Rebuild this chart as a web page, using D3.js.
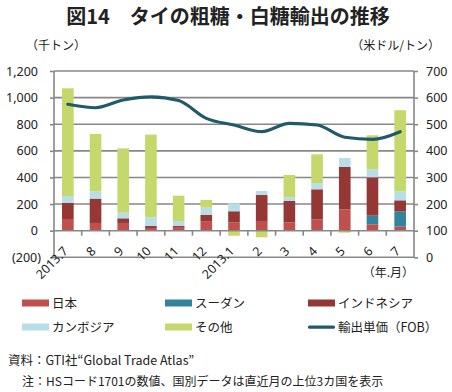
<!DOCTYPE html>
<html>
<head>
<meta charset="utf-8">
<script src="https://cdn.jsdelivr.net/npm/d3@7"></script>
<style>
  body { margin: 0; background: #fff; }
  svg { display: block; font-family: "Noto Sans CJK JP", "Noto Sans", sans-serif; }
</style>
</head>
<body>
<svg id="chart" width="452" height="392"></svg>
<script>
// 月
var months = ['2013.7', '8', '9', '10', '11', '12', '2013.1', '2', '3', '4', '5', '6', '7'];
// 国別輸出量（千トン）
var japan     = [88, 58, 58, 20, 22, 68, 63, 73, 63, 86, 161, 48, 30];
var sudan     = [0, 0, 0, 0, 0, 0, 0, 0, 0, 0, 0, 65, 116];
var indonesia = [122, 183, 35, 15, 13, 52, 83, 195, 160, 225, 318, 288, 82];
var cambodia  = [51, 55, 42, 65, 38, 53, 60, 30, 28, 47, 67, 60, 68];
var others    = [809, 431, 484, 622, 190, 58, -38, -50, 168, 216, -15, 256, 609];
// 輸出単価 FOB（米ドル/トン）
var price = [575, 562, 591, 603, 589, 522, 497, 472, 503, 497, 451, 443, 472];

var leftTicks = [-200, 0, 200, 400, 600, 800, 1000, 1200];
var rightTicks = [0, 100, 200, 300, 400, 500, 600, 700];

var series = [
  { key: 'japan', name: '日本', color: '#c0504d', values: japan },
  { key: 'sudan', name: 'スーダン', color: '#31849b', values: sudan },
  { key: 'indonesia', name: 'インドネシア', color: '#953735', values: indonesia },
  { key: 'cambodia', name: 'カンボジア', color: '#b7dee8', values: cambodia },
  { key: 'others', name: 'その他', color: '#c4d86c', values: others }
];
var lineColor = '#215a69';
var axisColor = '#878787';

var svg = d3.select('#chart');

// タイトル
svg.append('text')
    .attr('x', 228)
    .attr('y', 24)
    .attr('text-anchor', 'middle')
    .style('font-size', '20px')
    .style('font-weight', 'bold')
    .style('fill', '#222')
    .text('図14　タイの粗糖・白糖輸出の推移');

svg.append('text')
    .attr('x', 26).attr('y', 50)
    .style('font-size', '12px').style('fill', '#222')
    .text('（千トン）');
svg.append('text')
    .attr('x', 440).attr('y', 50)
    .attr('text-anchor', 'end')
    .style('font-size', '12px').style('fill', '#222')
    .text('（米ドル/トン）');

var plotLeft = 54, plotRight = 414, plotTop = 71, plotBottom = 257.3;

var x = d3.scaleBand()
    .domain(months)
    .range([plotLeft, plotRight])
    .paddingInner(0.58)
    .paddingOuter(0.29);

var yL = d3.scaleLinear().domain([-200, 1200]).range([plotBottom, plotTop]);
var yR = d3.scaleLinear().domain([0, 700]).range([plotBottom, plotTop]);

// グリッド
svg.append('g')
    .selectAll('line')
    .data(leftTicks.filter(function(d) { return d > 0; }))
    .enter()
    .append('line')
    .attr('x1', plotLeft).attr('x2', plotRight)
    .attr('y1', function(d) { return yL(d); })
    .attr('y2', function(d) { return yL(d); })
    .attr('stroke', axisColor)
    .attr('stroke-width', 1.6);

// 積み上げデータ
var table = months.map(function(m, i) {
  var row = { month: m };
  series.forEach(function(s) { row[s.key] = s.values[i]; });
  return row;
});
var stack = d3.stack()
    .keys(series.map(function(s) { return s.key; }))
    .offset(d3.stackOffsetDiverging);
var stacked = stack(table);

svg.append('g')
    .selectAll('g')
    .data(stacked)
    .enter()
    .append('g')
    .attr('fill', function(d, i) { return series[i].color; })
    .selectAll('rect')
    .data(function(d) { return d; })
    .enter()
    .append('rect')
    .attr('x', function(d) { return x(d.data.month); })
    .attr('width', x.bandwidth())
    .attr('y', function(d) { return yL(Math.max(d[0], d[1])); })
    .attr('height', function(d) { return Math.abs(yL(d[0]) - yL(d[1])); });

// 軸線
var axisG = svg.append('g').attr('stroke', axisColor).attr('stroke-width', 1.6);
axisG.append('line').attr('x1', plotLeft).attr('x2', plotLeft).attr('y1', plotTop).attr('y2', plotBottom);
axisG.append('line').attr('x1', plotRight).attr('x2', plotRight).attr('y1', plotTop).attr('y2', plotBottom);
axisG.append('line').attr('x1', plotLeft).attr('x2', plotRight).attr('y1', plotBottom).attr('y2', plotBottom);
axisG.append('line').attr('x1', plotLeft).attr('x2', plotRight).attr('y1', yL(0)).attr('y2', yL(0));

// 左軸
var fmt = d3.format(',');
var yAxisL = d3.axisLeft(yL)
    .tickValues(leftTicks)
    .tickSize(4)
    .tickPadding(9)
    .tickFormat(function(d) { return d < 0 ? '(' + fmt(-d) + ')' : fmt(d); });
var gL = svg.append('g')
    .attr('transform', 'translate(' + plotLeft + ',0)')
    .call(yAxisL);
gL.select('.domain').remove();
gL.selectAll('.tick line').attr('stroke', axisColor).attr('stroke-width', 1.6);
gL.selectAll('.tick text')
    .attr('x', function(d) { return d < 0 ? -13 : -16; })
    .style('font-family', '"Noto Sans", sans-serif')
    .style('font-size', '12.5px')
    .style('fill', '#222');

// 右軸
var yAxisR = d3.axisRight(yR)
    .tickValues(rightTicks)
    .tickSize(4)
    .tickPadding(8);
var gR = svg.append('g')
    .attr('transform', 'translate(' + plotRight + ',0)')
    .call(yAxisR);
gR.select('.domain').remove();
gR.selectAll('.tick line').attr('stroke', axisColor).attr('stroke-width', 1.6);
gR.selectAll('.tick text')
    .style('font-family', '"Noto Sans", sans-serif')
    .style('font-size', '12.5px')
    .style('fill', '#222');

// x軸の目盛り（区切り）
svg.append('g')
    .selectAll('line')
    .data(months.slice(1))
    .enter()
    .append('line')
    .attr('x1', function(d) { return x(d) - x.step() * x.paddingInner() / 2; })
    .attr('x2', function(d) { return x(d) - x.step() * x.paddingInner() / 2; })
    .attr('y1', yL(0))
    .attr('y2', yL(0) + 5)
    .attr('stroke', axisColor)
    .attr('stroke-width', 1.6);

// x軸ラベル
svg.append('g')
    .selectAll('text')
    .data(months)
    .enter()
    .append('text')
    .attr('transform', function(d) {
      return 'translate(' + (x(d) + x.bandwidth() / 2 + 1) + ',252) rotate(-45)';
    })
    .attr('text-anchor', 'end')
    .style('font-family', '"Noto Sans", sans-serif')
    .style('font-size', '12.5px')
    .style('fill', '#222')
    .text(function(d) { return d; });

svg.append('text')
    .attr('x', 414).attr('y', 277)
    .attr('text-anchor', 'end')
    .style('font-size', '12px').style('fill', '#222')
    .text('（年.月）');

// 輸出単価の線
var line = d3.line()
    .x(function(d, i) { return x(months[i]) + x.bandwidth() / 2; })
    .y(function(d) { return yR(d); })
    .curve(d3.curveMonotoneX);

svg.append('path')
    .datum(price)
    .attr('d', line)
    .attr('fill', 'none')
    .attr('stroke', lineColor)
    .attr('stroke-width', 3.2)
    .attr('stroke-linecap', 'round');

// 凡例
var legendItems = series.slice();
legendItems.push({ key: 'price', name: '輸出単価（FOB）', color: lineColor, isLine: true });
var legendOrder = ['japan', 'sudan', 'indonesia', 'cambodia', 'others', 'price'];
var colX = [22, 165, 308];
var rowY = [303, 327];

var legend = svg.append('g')
    .selectAll('g')
    .data(legendOrder.map(function(k) {
      return legendItems.filter(function(s) { return s.key === k; })[0];
    }))
    .enter()
    .append('g')
    .attr('transform', function(d, i) {
      return 'translate(' + colX[i % 3] + ',' + rowY[Math.floor(i / 3)] + ')';
    });

legend.append('rect')
    .attr('x', 0)
    .attr('y', function(d) { return d.isLine ? -1.5 : -3.5; })
    .attr('width', 27)
    .attr('height', function(d) { return d.isLine ? 3.2 : 7; })
    .attr('rx', function(d) { return d.isLine ? 1.5 : 0; })
    .attr('fill', function(d) { return d.color; });

legend.append('text')
    .attr('x', 30)
    .attr('y', 0)
    .attr('dy', '0.36em')
    .style('font-size', '12.5px')
    .style('fill', '#222')
    .text(function(d) { return d.name; });

// 出所・注
svg.append('text')
    .attr('x', 8).attr('y', 365)
    .style('font-size', '12.5px').style('fill', '#222')
    .text('資料：GTI社“Global Trade Atlas”');
svg.append('text')
    .attr('x', 22).attr('y', 386)
    .style('font-size', '12px').style('fill', '#222')
    .text('注：HSコード1701の数値、国別データは直近月の上位3カ国を表示');
</script>
</body>
</html>
